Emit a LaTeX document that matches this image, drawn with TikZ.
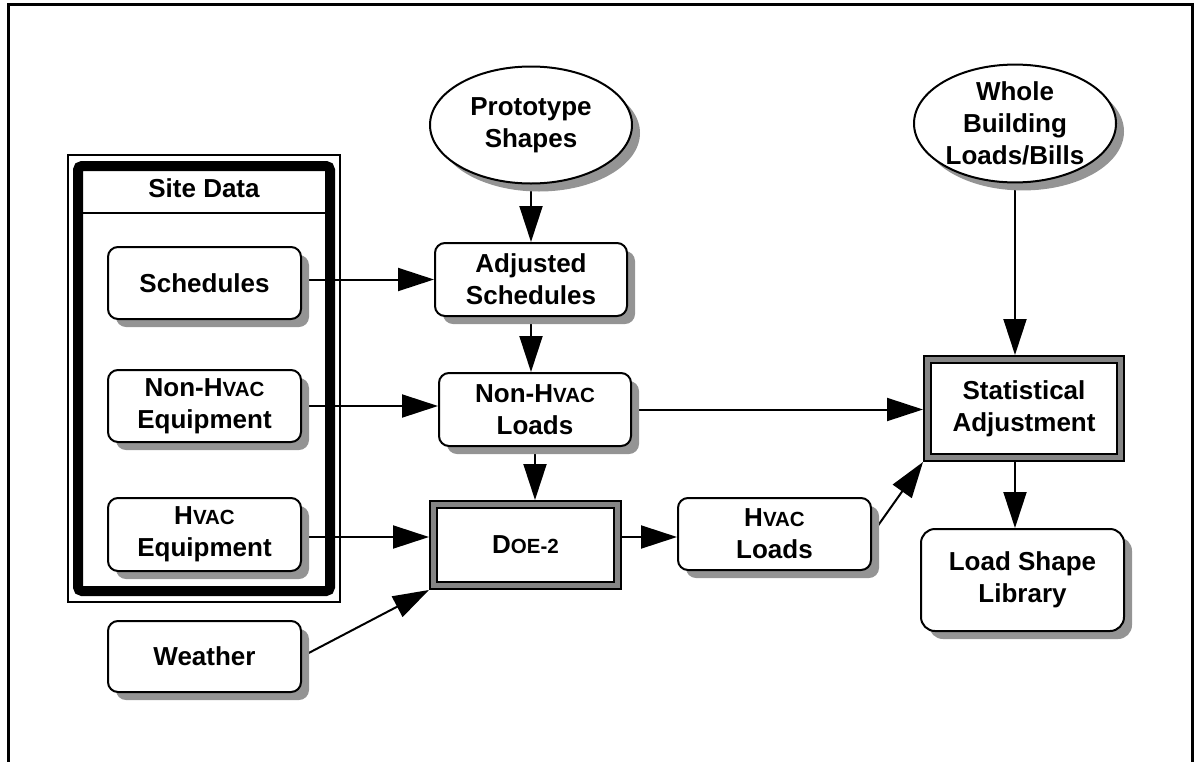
\documentclass[tikz,border=0pt]{standalone}
\usepackage{fontspec}
\setmainfont{Liberation Sans}
\usetikzlibrary{shapes.geometric,shadows,arrows.meta,backgrounds,calc}
\newcommand{\smc}[1]{{\fontsize{20.5}{32}\selectfont #1}}
\begin{document}
\begin{tikzpicture}[x=1pt,y=-1pt,
  lbl/.style={align=center, font=\fontsize{26}{32}\selectfont\bfseries, inner sep=0pt},
  shad/.style={drop shadow={shadow xshift=8pt, shadow yshift=-8pt, fill=black!42, opacity=1}},
  box/.style={lbl, draw, line width=2pt, rounded corners=10pt, fill=white, shad},
  ell/.style={lbl, ellipse, draw, line width=2pt, fill=white, shad},
  dbl/.style={lbl, draw, line width=2pt, double=black!48, double distance=5pt, fill=white, outer sep=4.5pt},
  arr/.style={line width=2pt, -{Triangle[length=36pt,width=23pt]}}
]
\useasboundingbox (0,0) rectangle (1195,761);
% outer frame (open at the bottom)
\draw[line width=3.5pt] (8.5,763) -- (8.5,4.3) -- (1192.5,4.3) -- (1192.5,763);
% site data frame
\draw[line width=1.5pt] (68,155) rectangle (340,602);
\draw[line width=10pt, rounded corners=4pt] (78,166) rectangle (330,591);
\draw[line width=2pt] (83,213) -- (325,213);
\node[lbl] (site) at (204,188) {Site Data};

% nodes
\node[box, minimum width=193pt, minimum height=72pt] (sched) at (204.5,283) {Schedules};
\node[box, minimum width=193pt, minimum height=72pt] (nheq) at (204.5,406) {Non-H\smc{VAC}\\Equipment};
\node[box, minimum width=193pt, minimum height=73pt] (heq) at (204.5,534.5) {H\smc{VAC}\\Equipment};
\node[box, minimum width=193pt, minimum height=71pt] (weather) at (204.5,656.5) {Weather};

\node[ell, minimum width=202pt, minimum height=117pt] (proto) at (531,125) {Prototype\\Shapes};
\node[box, minimum width=192pt, minimum height=73pt] (adj) at (531,279.5) {Adjusted\\Schedules};
\node[box, minimum width=192pt, minimum height=73pt] (nhl) at (535,409.5) {Non-H\smc{VAC}\\Loads};
\node[dbl, minimum width=184pt, minimum height=81pt] (doe) at (525.5,545) {D\smc{OE-2}};
\node[box, minimum width=193pt, minimum height=72pt] (hl) at (774.5,534) {H\smc{VAC}\\Loads};

\node[ell, minimum width=202pt, minimum height=115pt] (whole) at (1015,123.5) {Whole\\Building\\Loads/Bills};
\node[dbl, minimum width=193pt, minimum height=98pt] (stat) at (1024,408.5) {Statistical\\Adjustment};
\node[box, rounded corners=14pt, minimum width=203pt, minimum height=102pt] (lib) at (1022.5,580) {Load Shape\\Library};

% connectors
\begin{pgfonlayer}{background}
\draw[arr] (sched.east |- adj.west) -- (adj.west);
\draw[arr] (nheq.east) -- (nheq.east -| nhl.west);
\draw[arr] ($(heq.east)+(0,2.5)$) -- ($(heq.east -| doe.west)+(0,2.5)$);
\draw[arr] (weather.east) -- (doe.south west);
\draw[arr] (proto.south) -- (proto.south |- adj.north);
\draw[arr] (adj.south) -- (adj.south |- nhl.north);
\draw[arr] (nhl.south) -- (nhl.south |- doe.north);
\draw[arr] ($(doe.east |- hl.west)+(0,3)$) -- ($(hl.west)+(0,3)$);
\draw[arr] (nhl.east) -- (nhl.east -| stat.west);
\draw[arr] (hl.east) -- (stat.south west);
\draw[arr] (whole.south) -- (whole.south |- stat.north);
\draw[arr] (whole.south |- stat.south) -- (whole.south |- lib.north);
\end{pgfonlayer}
\end{tikzpicture}
\end{document}
